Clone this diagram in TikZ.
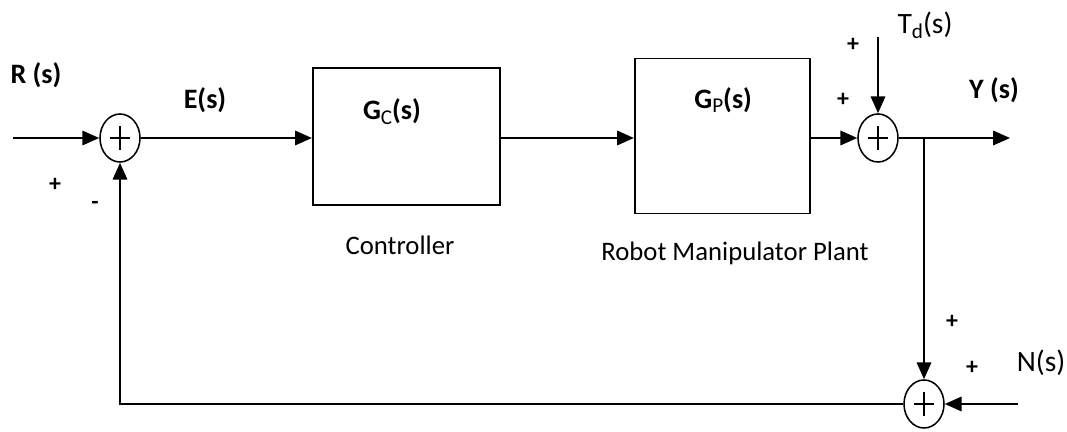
\documentclass[tikz,border=0pt]{standalone}
\usepackage{fontspec}
\setmainfont{Carlito}
\usetikzlibrary{arrows.meta,shapes.geometric}

\newcommand{\blocksub}[1]{\raisebox{-0.35ex}{\fontsize{15}{17}\selectfont\mdseries #1}}

\begin{document}
\begin{tikzpicture}[
    sumjunc/.style={draw, ellipse, line width=1.1pt, minimum width=1.0cm, minimum height=1.2cm, inner sep=0pt,
      path picture={\draw[line width=1pt]
        ([xshift=-0.26cm]path picture bounding box.center) -- ([xshift=0.26cm]path picture bounding box.center)
        ([yshift=-0.3cm]path picture bounding box.center) -- ([yshift=0.3cm]path picture bounding box.center);}},
    block/.style={draw, line width=1.4pt, inner sep=0pt},
    lbl/.style={font=\fontsize{21}{25}\selectfont},
    boldlbl/.style={font=\fontsize{20}{24}\selectfont\bfseries},
    txt/.style={font=\fontsize{19}{23}\selectfont},
    sgn/.style={font=\fontsize{17}{19}\selectfont\bfseries},
    sig/.style={-{Triangle[length=0.42cm,width=0.36cm]}, line width=1.4pt}
]
    \useasboundingbox (0,0) rectangle (26.675,10.8);

    % Sum junctions
    \node[sumjunc] (sum1) at (3.0, 7.35) {};
    \node[sumjunc] (sum2) at (21.95, 7.35) {};
    \node[sumjunc] (sum3) at (23.1, 0.7) {};

    % Blocks
    \node[block, minimum width=4.675cm, minimum height=3.425cm] (ctrl) at (10.16, 7.39) {};
    \node[block, minimum width=4.375cm, minimum height=3.875cm] (plant) at (18.06, 7.4) {};

    % Free ends
    \coordinate (rin) at (0.325, 7.35);
    \coordinate (tdin) at (21.95, 9.875);
    \coordinate (yout) at (25.25, 7.35);
    \coordinate (nin) at (25.45, 0.7);
    \coordinate (branch) at (23.1, 7.35);

    % Block texts
    \node[boldlbl] (gclab) at (9.8, 8.0) {G\blocksub{C}(s)};
    \node[boldlbl] (gplab) at (18.08, 8.3) {G\blocksub{P}(s)};
    \node[txt] (ctrllab) at (10.0, 4.675) {Controller};
    \node[txt] (plantlab) at (18.375, 4.475) {Robot Manipulator Plant};

    % Signal texts
    \node[boldlbl] (rlab) at (0.9, 8.925) {R (s)};
    \node[boldlbl] (elab) at (5.125, 8.3) {E(s)};
    \node[lbl] (tdlab) at (23.125, 10.175) {T\blocksub{d}(s)};
    \node[boldlbl] (ylab) at (24.85, 8.55) {Y (s)};
    \node[lbl] (nlab) at (26.025, 1.725) {N(s)};

    % Signs
    \node[sgn] (s1a) at (1.375, 6.175) {+};
    \node[sgn] (s1b) at (2.375, 5.675) {-};
    \node[sgn] (s2a) at (21.325, 9.675) {+};
    \node[sgn] (s2b) at (21.075, 8.3) {+};
    \node[sgn] (s3a) at (23.8, 2.75) {+};
    \node[sgn] (s3b) at (24.3, 1.6) {+};

    % Forward path
    \draw[sig] (rin) -- (sum1.west);
    \draw[sig] (sum1.east) -- (sum1.east -| ctrl.west);
    \draw[sig] (ctrl.east |- branch) -- (plant.west |- branch);
    \draw[sig] (plant.east |- sum2) -- (sum2.west);
    \draw[sig] (tdin) -- (sum2.north);
    \draw[sig] (sum2.east) -- (yout);

    % Feedback path
    \draw[sig] (branch) -- (sum3.north);
    \draw[sig] (nin) -- (sum3.east);
    \draw[sig] (sum3.west) -| (sum1.south);
\end{tikzpicture}
\end{document}
